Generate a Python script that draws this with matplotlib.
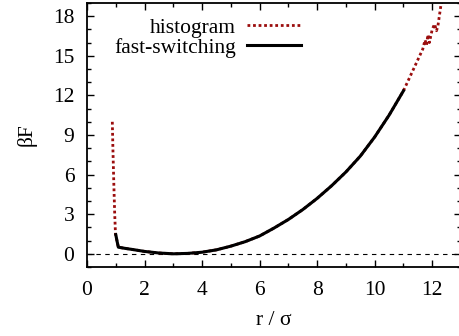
import matplotlib
matplotlib.use("Agg")
import matplotlib.pyplot as plt
from matplotlib.ticker import MultipleLocator

plt.rcParams['font.family'] = ['Liberation Serif', 'DejaVu Serif']

# fast-switching estimate (black)
fs_r = [1.00, 1.05, 1.09, 1.3, 1.6, 2.0, 2.5, 3.0, 3.5, 4.0, 4.5, 5.0, 5.5,
        6.0, 6.5, 7.0, 7.5, 8.0, 8.5, 9.0, 9.5, 10.0, 10.5, 11.0]
fs_F = [1.45, 0.9, 0.5, 0.42, 0.32, 0.18, 0.06, 0.0, 0.03, 0.12, 0.3, 0.58, 0.92,
        1.35, 1.95, 2.6, 3.35, 4.2, 5.15, 6.2, 7.4, 8.85, 10.5, 12.35]

# histogram estimate (red dotted)
hist_r = [0.88, 0.90, 0.93, 0.96, 0.99, 1.05, 1.09, 1.3, 1.6, 2.0, 2.5, 3.0, 3.5,
          4.0, 4.5, 5.0, 5.5, 6.0, 6.5, 7.0, 7.5, 8.0, 8.5, 9.0, 9.5, 10.0, 10.5,
          11.0, 11.33, 11.5, 11.67, 11.75, 11.8, 11.85, 11.9, 12.0, 12.08, 12.15,
          12.2, 12.26, 12.3, 12.36]
hist_F = [10.0, 8.0, 5.5, 3.2, 1.5, 0.9, 0.5, 0.42, 0.32, 0.18, 0.06, 0.0, 0.03,
          0.12, 0.3, 0.58, 0.92, 1.35, 1.95, 2.6, 3.35, 4.2, 5.15, 6.2, 7.4, 8.85, 10.5,
          12.35, 13.9, 14.7, 15.5, 16.2, 15.8, 16.6, 16.0, 17.0, 17.4, 16.9,
          17.3, 18.2, 18.8, 19.3]

fig = plt.figure(figsize=(4.59, 3.36), dpi=100)
ax = fig.add_axes([87 / 459, 1 - 267 / 336, (461 - 87) / 459, (267 - 3) / 336])

ax.axhline(0, color='black', lw=0.8, ls=(0, (4, 4)))
h1, = ax.plot(hist_r, hist_F, color='#9b0d0d', lw=2, ls=(0, (1, 1)),
              dash_capstyle='butt', label='histogram')
h2, = ax.plot(fs_r, fs_F, color='black', lw=2.2, label='fast-switching')

ax.set_xlim(0, 13)
ax.set_ylim(-1, 19)
ax.xaxis.set_major_locator(MultipleLocator(2))
ax.xaxis.set_minor_locator(MultipleLocator(1))
ax.yaxis.set_major_locator(MultipleLocator(3))
ax.yaxis.set_minor_locator(MultipleLocator(1))
ax.tick_params(which='both', direction='in', top=True, right=True, labelsize=15.5, width=1)
ax.tick_params(which='major', length=5)
ax.tick_params(axis='x', which='major', pad=10)
ax.tick_params(axis='y', which='major', pad=9)
ax.tick_params(which='minor', length=3)
for s in ax.spines.values():
    s.set_linewidth(1.3)

ax.set_xlabel('r / σ', fontsize=15.5, labelpad=8)
ax.set_ylabel('βF', fontsize=15.5, labelpad=12)

leg = ax.legend(handles=[h1, h2], loc='upper right', bbox_to_anchor=(0.585, 0.96),
                frameon=False, fontsize=15.5, markerfirst=False, handlelength=2.55,
                handletextpad=0.5, labelspacing=0.0, borderaxespad=0.0,
                borderpad=0.2)
for t in leg.get_texts():
    t.set_ha('right')
leg._legend_box.align = 'right'

fig.savefig('out.png', dpi=100)
